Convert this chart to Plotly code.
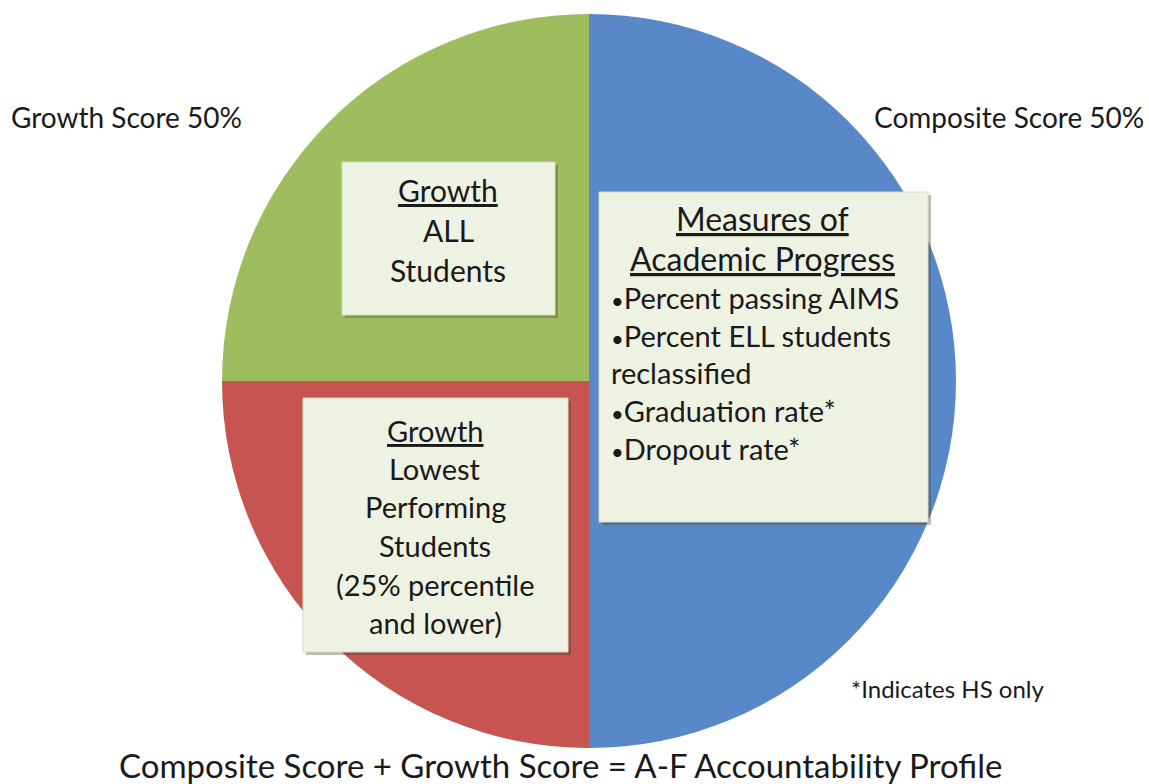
import plotly.graph_objects as go

W, H = 1149, 784

# Data
slice_labels = ["Composite Score", "Growth Lowest Performing Students", "Growth ALL Students"]
slice_values = [50, 25, 25]
slice_colors = ["#5888c8", "#c65451", "#9dbd5e"]

left_label = "Growth Score 50%"
right_label = "Composite Score 50%"
footnote = "*Indicates HS only"
bottom_title = "Composite Score + Growth Score = A-F Accountability Profile"

box_all_lines = ["<u>Growth</u>", "ALL", "Students"]
box_low_lines = ["<u>Growth</u>", "Lowest", "Performing", "Students", "(25% percentile", "and lower)"]
box_meas_head = ["<u>Measures of</u>", "<u>Academic Progress</u>"]
box_meas_items = ["•Percent passing AIMS", "•Percent ELL students", "reclassified",
                  "•Graduation rate*", "•Dropout rate*"]

FONT = "Lato, Calibri, sans-serif"
TXT = "#1a1a1a"

def px(x):
    return x / W

def py(y):
    return 1 - y / H

cx, cy, r = 589, 381, 367

fig = go.Figure(go.Pie(
    labels=slice_labels, values=slice_values, sort=False, direction="clockwise",
    rotation=0, marker=dict(colors=slice_colors, line=dict(width=0)),
    textinfo="none", hoverinfo="label+percent", showlegend=False,
    domain=dict(x=[px(cx - r), px(cx + r)], y=[py(cy + r), py(cy - r)]),
))

shapes = []
annotations = []

def box(x0, y0, x1, y1):
    shapes.append(dict(type="rect", xref="paper", yref="paper",
                       x0=px(x0 + 3), x1=px(x1 + 3), y0=py(y1 + 3), y1=py(y0 + 3),
                       fillcolor="rgba(70,60,40,0.35)", line=dict(width=0), layer="above"))
    shapes.append(dict(type="rect", xref="paper", yref="paper",
                       x0=px(x0), x1=px(x1), y0=py(y1), y1=py(y0),
                       fillcolor="#eef2e2", line=dict(width=1, color="#d4dcc0"), layer="above"))

def text(s, x, y, size=24, xanchor="center"):
    annotations.append(dict(text=s, x=px(x), y=py(y), xref="paper", yref="paper",
                            xanchor=xanchor, yanchor="middle", showarrow=False,
                            font=dict(family=FONT, size=size, color=TXT)))

box(342, 162, 555, 315)
box(599, 192, 928, 522)
box(303, 398, 568, 652)

for i, s in enumerate(box_all_lines):
    text(s, 448, 190 + 40 * i, size=30)
for i, s in enumerate(box_low_lines):
    text(s, 435, 430 + 38.5 * i, size=29)
for i, s in enumerate(box_meas_head):
    text(s, 763, 218 + 40 * i, size=32)
for i, s in enumerate(box_meas_items):
    s = s.replace("•", "<span style='font-size:22px'>•</span>")
    text(s, 609, 298 + 37.5 * i, size=29, xanchor="left")

text(left_label, 9, 117, size=28, xanchor="left")
text(right_label, 1146, 117, size=28, xanchor="right")
text(footnote, 849, 688, size=24, xanchor="left")
text(bottom_title, 560, 765, size=33)

fig.update_layout(
    width=W, height=H, margin=dict(l=0, r=0, t=0, b=0),
    paper_bgcolor="white", plot_bgcolor="white",
    shapes=shapes, annotations=annotations,
)

fig.write_html("out.html", config={"displayModeBar": False},
               post_script="document.body.style.margin='0';")
